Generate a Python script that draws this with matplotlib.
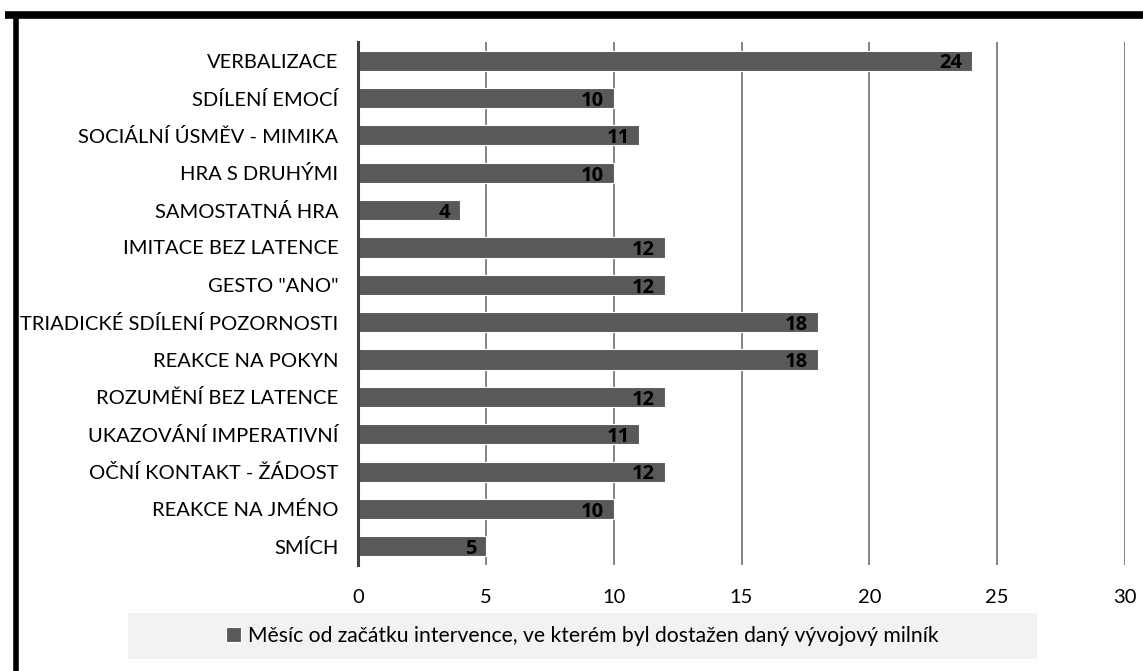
import matplotlib
matplotlib.use("Agg")
import matplotlib.pyplot as plt
from matplotlib.patches import Rectangle
from matplotlib.lines import Line2D

plt.rcParams['font.family'] = ['Lato', 'DejaVu Sans']

milestones = [
    "VERBALIZACE",
    "SDÍLENÍ EMOCÍ",
    "SOCIÁLNÍ ÚSMĚV - MIMIKA",
    "HRA S DRUHÝMI",
    "SAMOSTATNÁ HRA",
    "IMITACE BEZ LATENCE",
    'GESTO "ANO"',
    "TRIADICKÉ SDÍLENÍ POZORNOSTI",
    "REAKCE NA POKYN",
    "ROZUMĚNÍ BEZ LATENCE",
    "UKAZOVÁNÍ IMPERATIVNÍ",
    "OČNÍ KONTAKT - ŽÁDOST",
    "REAKCE NA JMÉNO",
    "SMÍCH",
]
months = [24, 10, 11, 10, 4, 12, 12, 18, 18, 12, 11, 12, 10, 5]
x_ticks = [0, 5, 10, 15, 20, 25, 30]
series_name = "Měsíc od začátku intervence, ve kterém byl dostažen daný vývojový milník"

W, H = 1143, 671
fig = plt.figure(figsize=(W / 100, H / 100), dpi=100)
ax = fig.add_axes([358 / W, 1 - 565 / H, (1125 - 358) / W, (565 - 42) / H])

bar_color = "#595959"
pos = list(range(len(milestones)))
bars = ax.barh(pos, months, height=0.54, color=bar_color, edgecolor="white",
               linewidth=0.8, zorder=3, label=series_name)

for y, v in zip(pos, months):
    ax.annotate(str(v), xy=(v, y), xytext=(-7, -2), textcoords="offset points",
                ha="right", va="center", fontsize=14.5, fontweight="bold",
                family=["Open Sans", "DejaVu Sans"], color="black", zorder=4)

ax.set_xlim(0, 30)
ax.set_ylim(len(milestones) - 0.5, -0.5)
ax.set_xticks(x_ticks)
ax.set_xticklabels([str(t) for t in x_ticks], fontsize=14.5)
ax.set_yticks(pos)
ax.set_yticklabels(milestones, fontsize=14.5)
ax.tick_params(axis="y", length=0, pad=14)
ax.tick_params(axis="x", length=0, pad=17)

ax.grid(axis="x", color="#707070", linewidth=1.2, zorder=0)
ax.grid(axis="y", visible=False)
for s in ("top", "right", "bottom"):
    ax.spines[s].set_visible(False)
ax.spines["left"].set_color("#404040")
ax.spines["left"].set_linewidth(2.2)
ax.spines["left"].set_zorder(5)

# legend panel
fig.patches.append(Rectangle((128 / W, 1 - 659 / H), (1037 - 128) / W, (659 - 613) / H,
                             transform=fig.transFigure, facecolor="#f2f2f2",
                             edgecolor="none", zorder=0))
fig.legend(handles=[bars], labels=[series_name], loc="center",
           bbox_to_anchor=((128 + 1037) / 2 / W, 1 - 636 / H), frameon=False,
           fontsize=15.2, handlelength=0.7, handleheight=0.7, handletextpad=0.35)

# outer frame (top and left edges)
fig.add_artist(Line2D([5 / W, 1], [1 - 15 / H, 1 - 15 / H], transform=fig.transFigure,
                      color="black", linewidth=5.5, solid_capstyle="butt"))
fig.add_artist(Line2D([15.5 / W, 15.5 / W], [1 - 12 / H, 0], transform=fig.transFigure,
                      color="black", linewidth=4, solid_capstyle="butt"))

fig.savefig("out.png", dpi=100, facecolor="white")
